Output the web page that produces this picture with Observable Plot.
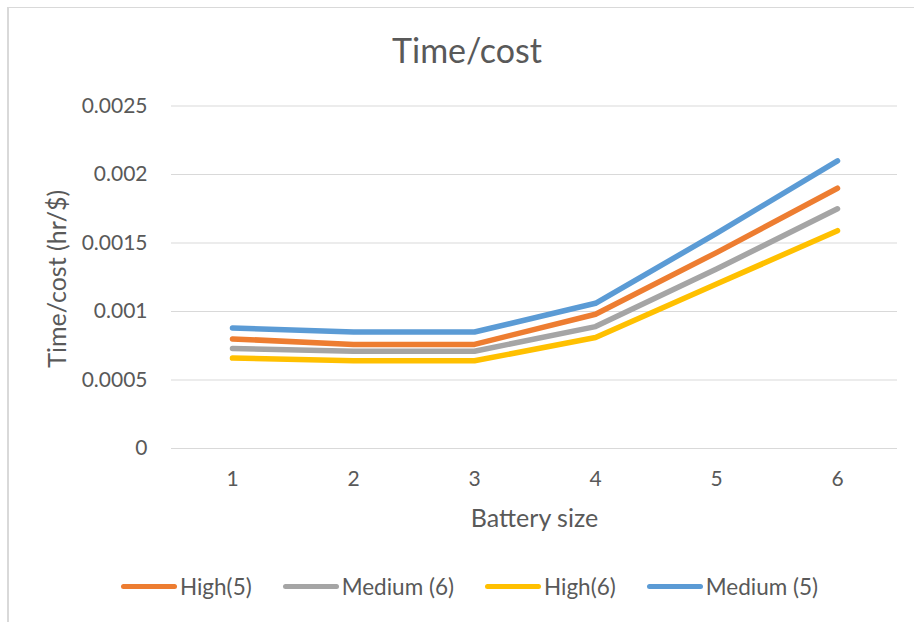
<!DOCTYPE html>
<html>
<head>
<meta charset="utf-8">
<script src="https://cdn.jsdelivr.net/npm/d3@7"></script>
<script src="https://cdn.jsdelivr.net/npm/@observablehq/plot@0.6"></script>
<style>
  html, body { margin: 0; padding: 0; background: #fff; }
  #wrap { position: relative; width: 914px; height: 622px; overflow: hidden; background: #fff; font-family: Lato, "Open Sans", sans-serif; color: #595959; }
  #frame { position: absolute; left: 7px; top: 7px; width: 1000px; height: 700px; border-left: 2px solid #d9d9d9; border-top: 1px solid #d9d9d9; box-sizing: border-box; }
  #title { position: absolute; left: 0; width: 934px; top: 30px; text-align: center; font-size: 34px; line-height: 40px; }
  #chart { position: absolute; left: 0; top: 90px; }
  #legend { position: absolute; left: 0; width: 939px; top: 573px; height: 26px; display: flex; justify-content: center; align-items: center; font-size: 22.5px; }
  .item { display: flex; align-items: center; margin: 0 15.5px; }
  .sw { width: 56px; height: 5px; border-radius: 3px; margin-right: 3px; }
</style>
</head>
<body>
<div id="wrap">
  <div id="frame"></div>
  <div id="title"></div>
  <div id="chart"></div>
  <div id="legend"></div>
</div>
<script>
const chartTitle = "Time/cost";
const xTitle = "Battery size";
const yTitle = "Time/cost (hr/$)";
const categories = [1, 2, 3, 4, 5, 6];
const seriesNames = ["High(5)", "Medium (6)", "High(6)", "Medium (5)"];
const seriesColors = ["#ED7D31", "#A5A5A5", "#FFC000", "#5B9BD5"];
const high5 = [0.00080, 0.00076, 0.00076, 0.00098, 0.00143, 0.00190];
const medium6 = [0.00073, 0.00071, 0.00071, 0.00089, 0.00131, 0.00175];
const high6 = [0.00066, 0.00064, 0.00064, 0.00081, 0.00120, 0.00159];
const medium5 = [0.00088, 0.00085, 0.00085, 0.00106, 0.00157, 0.00210];
const yTicks = [0, 0.0005, 0.001, 0.0015, 0.002, 0.0025];
const yTickLabels = ["0", "0.0005", "0.001", "0.0015", "0.002", "0.0025"];

const seriesValues = [high5, medium6, high6, medium5];
const rows = [];
seriesNames.forEach((name, s) => {
  categories.forEach((c, i) => rows.push({series: name, size: c, value: seriesValues[s][i]}));
});

document.getElementById("title").textContent = chartTitle;

const plot = Plot.plot({
  width: 914,
  height: 460,
  marginLeft: 171,
  marginRight: 17,
  marginTop: 15.5,
  marginBottom: 102,
  style: {fontFamily: "Lato, 'Open Sans', sans-serif", color: "#595959", background: "transparent", overflow: "visible"},
  x: {type: "point", domain: categories, padding: 0.5},
  y: {domain: [0, 0.0025]},
  color: {domain: seriesNames, range: seriesColors},
  marks: [
    Plot.ruleY(yTicks, {stroke: "#d9d9d9", strokeWidth: 1}),
    Plot.axisY(yTicks, {tickSize: 0, tickPadding: 24, fontSize: 21, fill: "#595959", label: null,
      tickFormat: d => yTickLabels[yTicks.indexOf(d)]}),
    Plot.axisX({tickSize: 0, tickPadding: 23, fontSize: 21, fill: "#595959", label: null}),
    Plot.line(rows, {x: "size", y: "value", z: "series", stroke: "series", strokeWidth: 5.5,
      strokeLinecap: "round", strokeLinejoin: "round"}),
    Plot.text([xTitle], {text: d => d, frameAnchor: "bottom", textAnchor: "middle", lineAnchor: "middle",
      dy: 70, fontSize: 25, fill: "#595959"}),
    Plot.text([yTitle], {text: d => d, frameAnchor: "left", textAnchor: "middle", lineAnchor: "middle",
      rotate: -90, dx: -114, dy: 1.5, fontSize: 25, fill: "#595959"})
  ]
});
document.getElementById("chart").appendChild(plot);

const legend = document.getElementById("legend");
seriesNames.forEach((name, i) => {
  const item = document.createElement("div");
  item.className = "item";
  const sw = document.createElement("div");
  sw.className = "sw";
  sw.style.background = seriesColors[i];
  const label = document.createElement("span");
  label.textContent = name;
  item.appendChild(sw);
  item.appendChild(label);
  legend.appendChild(item);
});
</script>
</body>
</html>
